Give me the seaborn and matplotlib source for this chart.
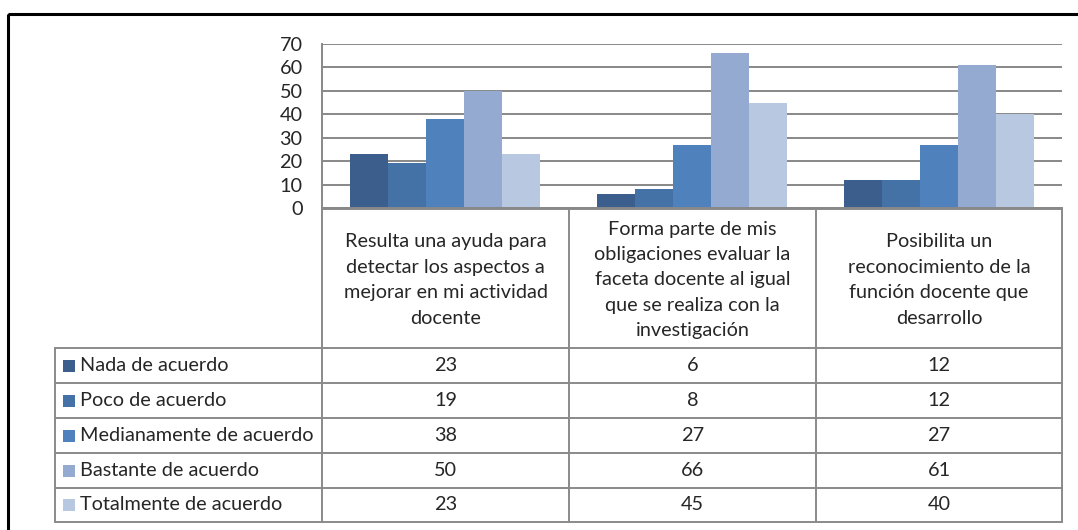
import matplotlib
matplotlib.use("Agg")
import matplotlib.pyplot as plt
import seaborn as sns
import pandas as pd
from matplotlib.patches import Rectangle

categories = [
    "Resulta una ayuda para\ndetectar los aspectos a\nmejorar en mi actividad\ndocente",
    "Forma parte de mis\nobligaciones evaluar la\nfaceta docente al igual\nque se realiza con la\ninvestigación",
    "Posibilita un\nreconocimiento de la\nfunción docente que\ndesarrollo",
]
series = ["Nada de acuerdo", "Poco de acuerdo", "Medianamente de acuerdo",
          "Bastante de acuerdo", "Totalmente de acuerdo"]
nada = [23, 6, 12]
poco = [19, 8, 12]
mediana = [38, 27, 27]
bastante = [50, 66, 61]
totalmente = [23, 45, 40]
colors = ["#3b5e8c", "#4472a7", "#4f81bd", "#95aad0", "#b9c8e1"]

values = [nada, poco, mediana, bastante, totalmente]
rows = []
for s, vals in zip(series, values):
    for i, v in enumerate(vals):
        rows.append({"cat": i, "serie": s, "valor": v})
df = pd.DataFrame(rows)

sns.set_style("white")
plt.rcParams["font.family"] = ["Lato", "DejaVu Sans"]
FS = 14.3

W, H = 1078, 530
fig = plt.figure(figsize=(W / 100, H / 100), dpi=100)

# overlay in pixel coords for border and data table
bg = fig.add_axes([0, 0, 1, 1], zorder=0)
bg.set_xlim(0, W)
bg.set_ylim(H, 0)
bg.axis("off")

ax = fig.add_axes([322 / W, 1 - 208 / H, 740 / W, 164 / H], zorder=1)
ax.patch.set_alpha(0)
sns.barplot(data=df, x="cat", y="valor", hue="serie", hue_order=series,
            palette=colors, width=0.77, gap=0, linewidth=0, saturation=1,
            ax=ax, legend=False)
ax.set_xlim(-0.5, 2.5)
ax.set_ylim(0, 70)
ax.set_yticks(range(0, 71, 10))
ax.set_xticks([])
ax.set_xlabel("")
ax.set_ylabel("")
ax.yaxis.grid(True, color="#888888", lw=1.4)
ax.set_axisbelow(True)
for sp in ["top", "right"]:
    ax.spines[sp].set_visible(False)
for sp in ["left", "bottom"]:
    ax.spines[sp].set_color("#888888")
    ax.spines[sp].set_linewidth(1.4)
ax.tick_params(axis="y", length=0, pad=14, labelsize=FS)

# outer border
bg.add_patch(Rectangle((8, 14), W, H, fill=False, edgecolor="black", lw=2.2))

# data table
cols = [322, 569, 816, 1062]
row_y = [348, 383, 418, 453, 488, 522]
gc = "#8a8a8a"
bg.plot([cols[0], cols[-1]], [209, 209], color=gc, lw=1.4)
for x in cols:
    bg.plot([x, x], [209, row_y[-1]], color=gc, lw=1.4)
bg.plot([55, 55], [row_y[0], row_y[-1]], color=gc, lw=1.4)
for y in row_y:
    bg.plot([55, cols[-1]], [y, y], color=gc, lw=1.4)

for i, cat in enumerate(categories):
    cx = (cols[i] + cols[i + 1]) / 2
    bg.text(cx, 280, cat, ha="center", va="center", fontsize=FS,
            linespacing=1.6)

for r, (s, vals) in enumerate(zip(series, values)):
    cy = (row_y[r] + row_y[r + 1]) / 2
    bg.add_patch(Rectangle((63, cy - 6), 12, 12, color=colors[r], lw=0))
    bg.text(80, cy, s, ha="left", va="center", fontsize=FS)
    for i, v in enumerate(vals):
        cx = (cols[i] + cols[i + 1]) / 2
        bg.text(cx, cy, str(v), ha="center", va="center", fontsize=FS)

fig.savefig("out.png", dpi=100)
